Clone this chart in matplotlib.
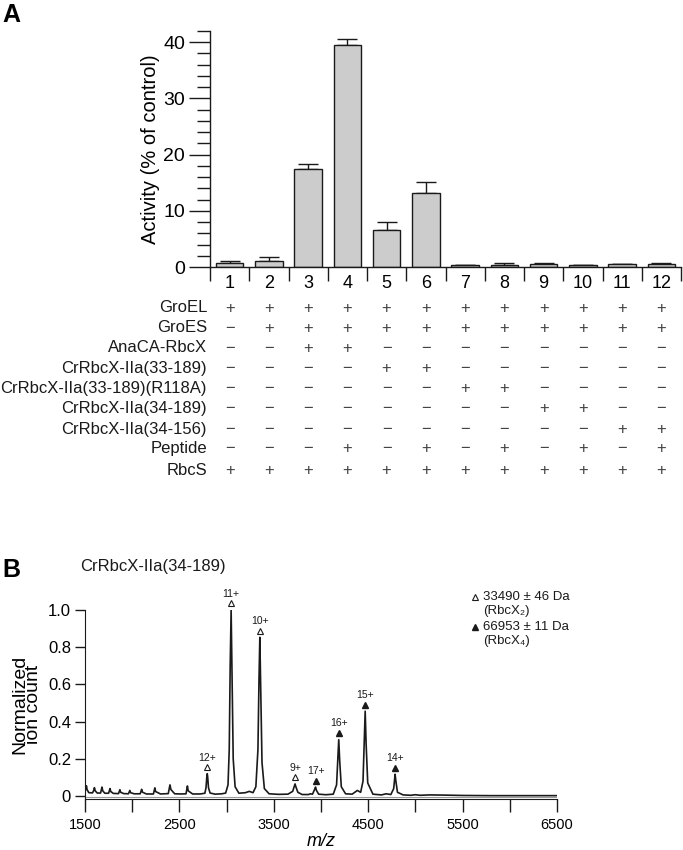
import matplotlib
matplotlib.use('Agg')
from matplotlib import pyplot as plt
from matplotlib import transforms
from matplotlib.ticker import MultipleLocator, FixedLocator, NullFormatter
import numpy as np

plt.rcParams['font.family'] = ['Liberation Sans', 'DejaVu Sans']

# ---- panel A data ----
lanes = [1, 2, 3, 4, 5, 6, 7, 8, 9, 10, 11, 12]
activity = [0.8, 1.1, 17.5, 39.5, 6.5, 13.1, 0.3, 0.4, 0.5, 0.3, 0.5, 0.6]
activity_err = [0.3, 0.6, 0.8, 1.0, 1.5, 2.0, 0.1, 0.3, 0.15, 0.1, 0.1, 0.15]

row_names = ['GroEL', 'GroES', 'AnaCA-RbcX', 'CrRbcX-IIa(33-189)',
             'CrRbcX-IIa(33-189)(R118A)', 'CrRbcX-IIa(34-189)',
             'CrRbcX-IIa(34-156)', 'Peptide', 'RbcS']
row_signs = [
    '++++++++++++',
    '-+++++++++++',
    '--++--------',
    '----++------',
    '------++----',
    '--------++--',
    '----------++',
    '---+-+-+-+-+',
    '++++++++++++',
]

# ---- panel B data ----
mz = [1500, 1508, 1515, 1522, 1540, 1580, 1592, 1600, 1608, 1630,
      1665, 1673, 1680, 1688, 1710, 1750, 1758, 1765, 1773, 1800,
      1855, 1863, 1870, 1878, 1910, 1960, 1968, 1975, 1983, 2020,
      2085, 2093, 2100, 2108, 2150, 2225, 2233, 2240, 2248, 2300,
      2382, 2392, 2400, 2410, 2450, 2520, 2570, 2578, 2585, 2593,
      2640, 2720, 2770, 2782, 2790, 2795, 2800, 2808, 2825, 2880,
      2950, 2990, 3015, 3028, 3038, 3048, 3058, 3070, 3090, 3130,
      3200, 3240, 3280, 3310, 3332, 3343, 3352, 3362, 3375, 3400,
      3450, 3550, 3650, 3700, 3715, 3725, 3735, 3755, 3800, 3870,
      3885, 3910, 3932, 3942, 3952, 3975, 4050, 4130, 4165, 4178,
      4188, 4198, 4215, 4260, 4330, 4385, 4420, 4445, 4458, 4468,
      4478, 4495, 4550, 4640, 4690, 4740, 4770, 4779, 4785, 4792,
      4810, 4870, 4950, 5000, 5050, 5150, 5300, 5500, 5800, 6100,
      6500]
ion = [0.020, 0.040, 0.055, 0.035, 0.018, 0.017, 0.030, 0.045, 0.028, 0.016,
       0.016, 0.032, 0.048, 0.028, 0.015, 0.015, 0.028, 0.040, 0.024, 0.014,
       0.013, 0.024, 0.034, 0.020, 0.013, 0.012, 0.021, 0.030, 0.018, 0.012,
       0.012, 0.025, 0.036, 0.021, 0.011, 0.011, 0.029, 0.044, 0.024, 0.011,
       0.013, 0.040, 0.060, 0.035, 0.012, 0.011, 0.012, 0.034, 0.054, 0.028,
       0.011, 0.011, 0.015, 0.045, 0.100, 0.120, 0.100, 0.045, 0.016, 0.010,
       0.012, 0.016, 0.060, 0.250, 0.700, 1.000, 0.650, 0.200, 0.050, 0.015,
       0.018, 0.025, 0.018, 0.050, 0.250, 0.620, 0.853, 0.560, 0.180, 0.040,
       0.012, 0.009, 0.010, 0.025, 0.050, 0.065, 0.048, 0.020, 0.008, 0.008,
       0.012, 0.010, 0.035, 0.048, 0.030, 0.010, 0.007, 0.010, 0.060, 0.200,
       0.303, 0.190, 0.050, 0.012, 0.010, 0.030, 0.020, 0.080, 0.300, 0.456,
       0.280, 0.070, 0.010, 0.006, 0.012, 0.008, 0.040, 0.090, 0.117, 0.085,
       0.020, 0.006, 0.004, 0.007, 0.004, 0.006, 0.005, 0.003, 0.002, 0.002,
       0.002]

dimer_mz = [2795, 3048, 3352, 3725]
dimer_top = [0.120, 1.000, 0.853, 0.065]
dimer_lbl = ['12+', '11+', '10+', '9+']
tetramer_mz = [3942, 4188, 4468, 4785]
tetramer_top = [0.048, 0.303, 0.456, 0.117]
tetramer_lbl = ['17+', '16+', '15+', '14+']

ink = '#1a1a1a'
W, H = 683, 850
fig = plt.figure(figsize=(W / 100, H / 100), dpi=100)

# ================= panel A =================
axA = fig.add_axes([210 / W, 1 - 267 / H, 471 / W, 236 / H])
axA.bar(lanes, activity, width=0.7, color='#cccccc', edgecolor=ink, linewidth=1, zorder=2)
axA.errorbar(lanes, activity, yerr=[np.zeros(len(activity)), activity_err], fmt='none',
             ecolor=ink, elinewidth=1, capsize=7.5, capthick=1, zorder=1)
axA.set_xlim(0.5, 12.5)
axA.set_ylim(0, 42)
for s in ['top', 'right']:
    axA.spines[s].set_visible(False)
for s in ['left', 'bottom']:
    axA.spines[s].set_color(ink)
    axA.spines[s].set_linewidth(1)
axA.yaxis.set_major_locator(FixedLocator([0, 10, 20, 30, 40]))
axA.yaxis.set_minor_locator(MultipleLocator(2))
axA.tick_params(axis='y', which='major', length=15, width=1, color=ink, labelsize=14, pad=3)
axA.tick_params(axis='y', which='minor', length=9.5, width=1, color=ink)
axA.set_xticks(lanes)
axA.set_xticklabels([str(l) for l in lanes])
axA.xaxis.set_minor_locator(MultipleLocator(1, offset=0.5))
axA.xaxis.set_minor_formatter(NullFormatter())
axA.tick_params(axis='x', which='major', length=0, labelsize=13, pad=6)
axA.tick_params(axis='x', which='minor', length=10, width=1, color=ink)
axA.set_ylabel('Activity (% of control)', fontsize=14.5, labelpad=2)

# condition table under the bars
tr = transforms.blended_transform_factory(axA.transData, fig.transFigure)
row_y = [308, 328, 348, 369, 389, 409, 429, 449, 471]
for name, signs, py in zip(row_names, row_signs, row_y):
    fig.text(207 / W, 1 - py / H, name, ha='right', va='center', fontsize=12, color=ink)
    for lane, sg in zip(lanes, signs):
        axA.text(lane, 1 - py / H, '+' if sg == '+' else '\u2212', transform=tr,
                 ha='center', va='center', fontsize=12, color='#444444', clip_on=False)

fig.text(2 / W, 1 - 15 / H, 'A', fontsize=18, fontweight='bold', va='center', ha='left')

# ================= panel B =================
axB = fig.add_axes([85 / W, 1 - 799 / H, 472 / W, 189 / H])
axB.axhline(-0.006, color='#999999', linewidth=0.8, zorder=1)
axB.plot(mz, ion, color=ink, linewidth=1.2, zorder=2)
axB.set_xlim(1500, 6500)
axB.set_ylim(-0.016, 1.0)
for s in ['top', 'right']:
    axB.spines[s].set_visible(False)
for s in ['left', 'bottom']:
    axB.spines[s].set_color(ink)
axB.set_xticks([1500, 2500, 3500, 4500, 5500, 6500])
axB.xaxis.set_minor_locator(FixedLocator([2000, 3000, 4000, 5000, 6000]))
axB.tick_params(axis='x', which='both', length=9.5, width=1, color=ink, labelsize=10.5, pad=4)
axB.set_yticks([0, 0.2, 0.4, 0.6, 0.8, 1.0])
axB.set_yticklabels(['0', '0.2', '0.4', '0.6', '0.8', '1.0'])
axB.tick_params(axis='y', length=7, width=1, color=ink, labelsize=12, pad=3)
axB.set_xlabel('m/z', fontsize=13, style='italic', labelpad=1)
axB.set_ylabel('Normalized\nion count', fontsize=14, linespacing=0.8, labelpad=4)

for x, top, lbl in zip(dimer_mz, dimer_top, dimer_lbl):
    axB.plot([x], [top + 0.035], marker='^', markersize=4.5, markerfacecolor='white',
             markeredgecolor=ink, markeredgewidth=0.8, clip_on=False, linestyle='none')
    axB.text(x, top + 0.06, lbl, ha='center', va='bottom', fontsize=7.5, color=ink, clip_on=False)
for x, top, lbl in zip(tetramer_mz, tetramer_top, tetramer_lbl):
    axB.plot([x], [top + 0.035], marker='^', markersize=5, color=ink, clip_on=False,
             linestyle='none')
    axB.text(x, top + 0.06, lbl, ha='center', va='bottom', fontsize=7.5, color=ink, clip_on=False)

# title and legend text
fig.text(80 / W, 1 - 567 / H, 'CrRbcX-IIa(34-189)', fontsize=12, va='center', ha='left', color=ink)
fig.text(2 / W, 1 - 570 / H, 'B', fontsize=18, fontweight='bold', va='center', ha='left')
fig.lines.append(plt.Line2D([475 / W], [1 - 597 / H], marker='^', markersize=4, markerfacecolor='white',
                            markeredgecolor=ink, markeredgewidth=0.8, transform=fig.transFigure))
fig.lines.append(plt.Line2D([475 / W], [1 - 627 / H], marker='^', markersize=4.5, color=ink,
                            transform=fig.transFigure))
fig.text(483 / W, 1 - 597 / H, '33490 \u00b1 46 Da', fontsize=9.5, va='center', color=ink)
fig.text(483 / W, 1 - 611 / H, '(RbcX\u2082)', fontsize=9.5, va='center', color=ink)
fig.text(483 / W, 1 - 627 / H, '66953 \u00b1 11 Da', fontsize=9.5, va='center', color=ink)
fig.text(483 / W, 1 - 641 / H, '(RbcX\u2084)', fontsize=9.5, va='center', color=ink)

fig.savefig('out.png', dpi=100)
